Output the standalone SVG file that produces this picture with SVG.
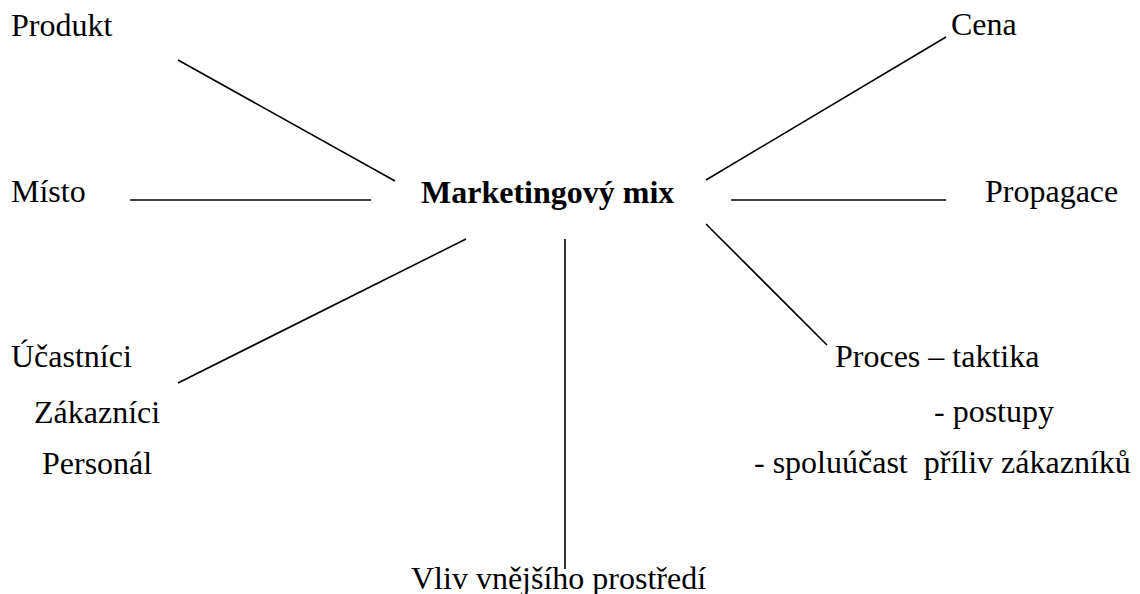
<svg xmlns="http://www.w3.org/2000/svg" width="1140" height="594" viewBox="0 0 1140 594">
<style>
  text { font-family: "Liberation Serif", "Times New Roman", serif; font-size: 32px; fill: #000; white-space: pre; }
  .b { font-weight: bold; }
  .c line { stroke: #000; stroke-width: 1.6; fill: none; }
</style>
<rect width="1140" height="594" fill="#fff"/>
<g class="c" id="connectors">
  <line x1="178" y1="60" x2="395" y2="181"/>
  <line x1="130" y1="200" x2="371" y2="200"/>
  <line x1="706" y1="180" x2="946" y2="37"/>
  <line x1="731" y1="200" x2="946" y2="200"/>
  <line x1="178" y1="383" x2="466" y2="239"/>
  <line x1="706" y1="224" x2="827" y2="345"/>
  <line x1="565" y1="239" x2="565" y2="569"/>
</g>
<g id="center"><text class="b" x="421" y="203">Marketingový mix</text></g>
<g id="produkt"><text x="11" y="36">Produkt</text></g>
<g id="misto"><text x="11" y="202">Místo</text></g>
<g id="cena"><text x="951" y="35">Cena</text></g>
<g id="propagace"><text x="985" y="202">Propagace</text></g>
<g id="ucastnici">
  <text x="11" y="367">Účastníci</text>
  <text x="34" y="423">Zákazníci</text>
  <text x="42" y="474">Personál</text>
</g>
<g id="proces">
  <text x="835" y="367">Proces – taktika</text>
  <text x="934" y="422">- postupy</text>
  <text x="754" y="473">- spoluúčast  příliv zákazníků</text>
</g>
<g id="vliv"><text x="411" y="589">Vliv vnějšího prostředí</text></g>
</svg>
